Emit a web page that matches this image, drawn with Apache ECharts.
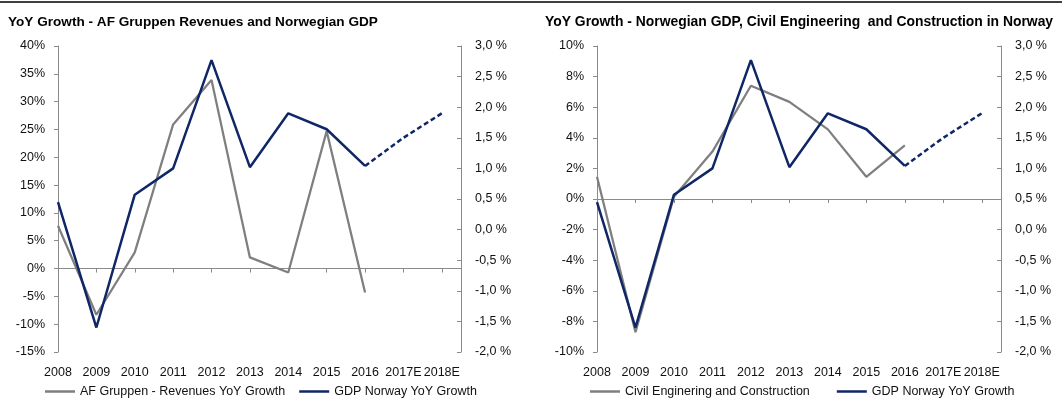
<!DOCTYPE html>
<html>
<head>
<meta charset="utf-8">
<script src="https://cdn.jsdelivr.net/npm/echarts@6/dist/echarts.min.js"></script>
<style>
  html, body { margin: 0; padding: 0; background: #fff; }
  #chart { width: 1062px; height: 419px; }
</style>
</head>
<body>
<div id="chart"></div>
<script>
// ---- data ----
const categories = ['2008', '2009', '2010', '2011', '2012', '2013', '2014', '2015', '2016', '2017E', '2018E'];
const afGruppenRevenueGrowth = [7.7, -8.3, 2.9, 25.9, 33.9, 2.0, -0.7, 24.7, -4.3, null, null];
const civilEngineeringGrowth = [1.45, -8.7, 0.15, 3.1, 7.4, 6.35, 4.55, 1.45, 3.5, null, null];
const gdpNorwayGrowth = [0.45, -1.6, 0.57, 1.0, 2.77, 1.02, 1.9, 1.64, 1.04, 1.5, 1.9];
const lastActualIndex = 8; // 2016 is last actual; 2017E/2018E are estimates (dashed)

const leftTitle = 'YoY Growth - AF Gruppen Revenues and Norwegian GDP';
const rightTitle = 'YoY Growth - Norwegian GDP, Civil Engineering  and Construction in Norway';
const afName = 'AF Gruppen - Revenues YoY Growth';
const civilName = 'Civil Enginering and Construction';
const gdpName = 'GDP Norway YoY Growth';

// ---- helpers ----
const pairs = (arr, from, to) => arr.map((v, i) => [i, (i >= from && i <= to) ? v : null]);
const FONT = 'Liberation Sans, Arial, sans-serif';
const GREY = '#7f7f7f';
const NAVY = '#0f2766';
const AXIS = '#8a8a8a';
const TXT = '#111';

const pctLeft = v => Math.round(v) + '%';
const pctRight = v => v.toFixed(1).replace('.', ',') + ' %';

function xAxesFor(gridIndex, yIdx) {
  return [
    { // labels at bottom
      type: 'value', gridIndex, min: 0, max: categories.length - 0.5, interval: 1,
      position: 'bottom',
      axisLine: { show: false, onZero: false }, axisTick: { show: false }, splitLine: { show: false },
      axisLabel: {
        margin: 14, color: TXT, fontFamily: FONT, fontSize: 12.5,
        showMaxLabel: false,
        formatter: v => (Number.isInteger(v) && categories[v] !== undefined) ? categories[v] : ''
      }
    },
    { // line at zero with ticks
      type: 'value', gridIndex, min: 0, max: categories.length - 0.5, interval: 1,
      position: 'bottom',
      axisLine: { show: true, onZero: true, onZeroAxisIndex: yIdx, lineStyle: { color: AXIS, width: 1 } },
      axisTick: { show: true, length: 4, lineStyle: { color: AXIS } },
      splitLine: { show: false },
      axisLabel: { show: false }
    }
  ];
}

function yAxisLeft(gridIndex, min, max, interval) {
  return {
    type: 'value', gridIndex, min, max, interval, position: 'left',
    axisLine: { show: true, onZero: false, lineStyle: { color: AXIS } },
    axisTick: { show: true, length: 4, lineStyle: { color: AXIS } },
    splitLine: { show: false },
    axisLabel: { margin: 13, color: TXT, fontFamily: FONT, fontSize: 12.5, formatter: pctLeft }
  };
}
function yAxisRight(gridIndex, min, max, interval) {
  return {
    type: 'value', gridIndex, min, max, interval, position: 'right',
    axisLine: { show: true, onZero: false, lineStyle: { color: AXIS } },
    axisTick: { show: true, inside: true, length: 4, lineStyle: { color: AXIS } },
    splitLine: { show: false },
    axisLabel: { margin: 14, color: TXT, fontFamily: FONT, fontSize: 12.5, formatter: pctRight }
  };
}

const legendCommon = {
  top: 385, padding: 0, itemWidth: 30, itemHeight: 2.5, icon: 'rect',
  textStyle: { color: TXT, fontFamily: FONT, fontSize: 12.5 }
};

const chart = echarts.init(document.getElementById('chart'), null, { renderer: 'canvas' });

const option = {
  animation: false,
  backgroundColor: '#fff',
  textStyle: { fontFamily: FONT },
  graphic: [
    { type: 'line', shape: { x1: 0, y1: 2, x2: 1062, y2: 2 }, style: { stroke: '#000', lineWidth: 1.5 } }
  ],
  title: [
    { text: leftTitle, left: 8, top: 15, padding: 0, textStyle: { fontFamily: FONT, fontSize: 13.6, fontWeight: 'bold', color: '#000' } },
    { text: rightTitle, left: 545, top: 15, padding: 0, textStyle: { fontFamily: FONT, fontSize: 13.9, fontWeight: 'bold', color: '#000' } }
  ],
  grid: [
    { left: 58, top: 46, width: 403, height: 306 },
    { left: 597, top: 46, width: 404, height: 306 }
  ],
  xAxis: [...xAxesFor(0, 0), ...xAxesFor(1, 2)],
  yAxis: [
    yAxisLeft(0, -15, 40, 5),
    yAxisRight(0, -2, 3, 0.5),
    yAxisLeft(1, -10, 10, 2),
    yAxisRight(1, -2, 3, 0.5)
  ],
  legend: [
    Object.assign({ data: [afName, gdpName], left: 45, itemGap: 14 }, legendCommon),
    Object.assign({ data: [civilName, gdpName], left: 590, itemGap: 27 }, legendCommon)
  ],
  series: [
    {
      name: afName, type: 'line', xAxisIndex: 0, yAxisIndex: 0, symbol: 'none',
      data: pairs(afGruppenRevenueGrowth, 0, lastActualIndex),
      lineStyle: { color: GREY, width: 2.25 }, itemStyle: { color: GREY }, z: 2
    },
    {
      name: gdpName, type: 'line', xAxisIndex: 0, yAxisIndex: 1, symbol: 'none',
      data: pairs(gdpNorwayGrowth, 0, lastActualIndex),
      lineStyle: { color: NAVY, width: 2.5 }, itemStyle: { color: NAVY }, z: 3
    },
    {
      name: gdpName + ' (E)', type: 'line', xAxisIndex: 0, yAxisIndex: 1, symbol: 'none',
      data: pairs(gdpNorwayGrowth, lastActualIndex, categories.length - 1),
      lineStyle: { color: NAVY, width: 2.5, type: [5, 3] }, itemStyle: { color: NAVY }, z: 3
    },
    {
      name: civilName, type: 'line', xAxisIndex: 2, yAxisIndex: 2, symbol: 'none',
      data: pairs(civilEngineeringGrowth, 0, lastActualIndex),
      lineStyle: { color: GREY, width: 2.25 }, itemStyle: { color: GREY }, z: 2
    },
    {
      name: gdpName, type: 'line', xAxisIndex: 2, yAxisIndex: 3, symbol: 'none',
      data: pairs(gdpNorwayGrowth, 0, lastActualIndex),
      lineStyle: { color: NAVY, width: 2.5 }, itemStyle: { color: NAVY }, z: 3
    },
    {
      name: gdpName + ' (E2)', type: 'line', xAxisIndex: 2, yAxisIndex: 3, symbol: 'none',
      data: pairs(gdpNorwayGrowth, lastActualIndex, categories.length - 1),
      lineStyle: { color: NAVY, width: 2.5, type: [5, 3] }, itemStyle: { color: NAVY }, z: 3
    }
  ]
};
chart.setOption(option);
</script>
</body>
</html>
